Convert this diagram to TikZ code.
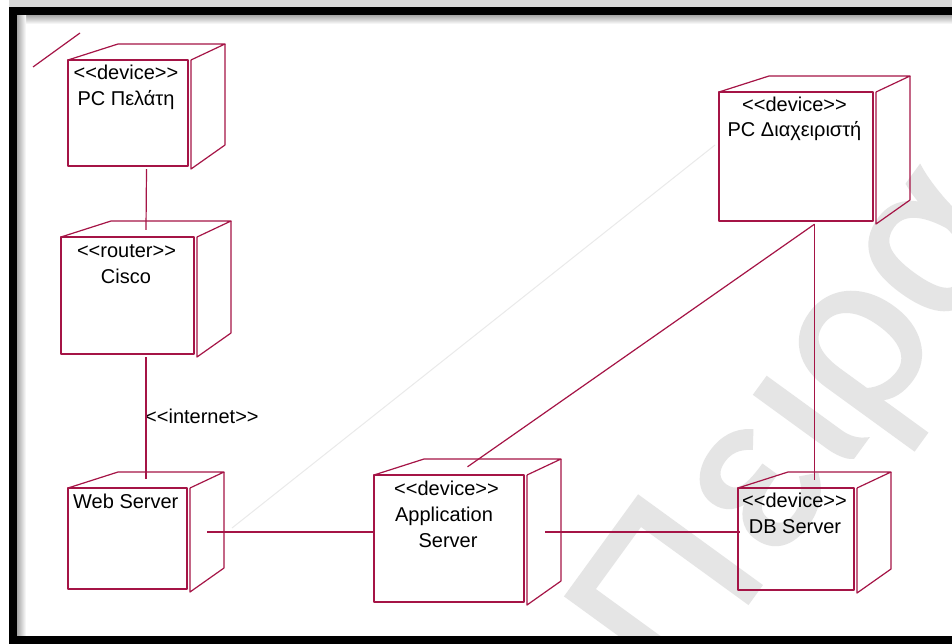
\documentclass[tikz,border=0pt]{standalone}
\usepackage{fontspec}
\setmainfont{Liberation Sans}[Ligatures=TeXOff]
\newfontfamily\wmfont{Liberation Sans}[FakeBold=2]
\usetikzlibrary{fit,calc}
\definecolor{umlred}{RGB}{165,20,70}
\definecolor{wm}{RGB}{229,229,229}
\tikzset{
  umlline/.style={draw=umlred, line width=1.2pt, line join=round},
  bbox/.style={inner sep=0pt, draw=none},
  lbl/.style={font=\fontsize{20}{24}\selectfont, inner sep=0pt, text=black},
  conn/.style={draw=umlred, line width=1.2pt},
  wmglyph/.style={rotate=54, inner sep=0pt, text=wm, anchor=center,
    font=\wmfont\fontsize{218}{218}\selectfont, text depth=0pt, text height=#1},
  wmglyph/.default=113pt,
}
\newcommand\devbox[5]{%
  \draw[umlline] (#2,#3) rectangle (#4,#5);
  \draw[umlline] (#2,#3) -- (#2+50,#3-16) -- (#4+37,#3-16) -- (#4+3,#3);
  \draw[umlline] (#4+3,#3) -- (#4+3,#5+3) -- (#4+37,#5-21) -- (#4+37,#3-16);
  \node[bbox, fit={(#2,#3-16) (#4+37,#5+3)}] (#1) {};
}
\begin{document}
\begin{tikzpicture}[x=1pt,y=-1pt]
\useasboundingbox (0,0) rectangle (952,644);
\fill[white] (0,0) rectangle (952,644);
% watermark
\begin{scope}
  \clip (17,15) rectangle (952,636);
  \node[wmglyph=156pt] (wm1) at (661,589) {Π};
  \node[wmglyph] (wm2) at (760,489) {ε};
  \node[wmglyph] (wm3) at (809,421) {ι};
  \node[wmglyph] (wm4) at (860,350) {ρ};
  \node[wmglyph] (wm5) at (934,248) {α};
  \coordinate (f1) at (232,528);
  \coordinate (f2) at (715,145);
  \draw[wm!80, line width=1pt] (f1) -- (f2);
\end{scope}
% frame
\fill[black!15] (9,0) rectangle (952,7);
\shade[top color=black!35, bottom color=white] (17,15) rectangle (952,24);
\shade[left color=black!35, right color=white] (17,15) rectangle (26,636);
\fill[black] (9,7) rectangle (952,15);
\fill[black] (9,7) rectangle (17,644);
\fill[black] (9,636) rectangle (952,644);
% nodes
\devbox{pcc}{68}{60}{188}{166}
\devbox{cisco}{61}{237}{194}{354}
\devbox{web}{68}{488}{187}{589}
\devbox{app}{374}{475}{524}{602}
\devbox{db}{738}{488}{854}{590}
\devbox{pcd}{719}{92}{873}{221}
% labels
\node[lbl, anchor=base] (pcc-s) at (126,80) {<<device>>};
\node[lbl, anchor=base] (pcc-n) at (126,106) {PC Πελάτη};
\node[lbl, anchor=base] (cisco-s) at (126.5,257) {<<router>>};
\node[lbl, anchor=base] (cisco-n) at (126,283) {Cisco};
\node[lbl, anchor=base west] (web-n) at (73,508) {Web Server};
\node[lbl, anchor=base] (app-s) at (446.5,495) {<<device>>};
\node[lbl, anchor=base] (app-n1) at (444,521) {Application};
\node[lbl, anchor=base] (app-n2) at (448,547) {Server};
\node[lbl, anchor=base] (db-s) at (794.5,507) {<<device>>};
\node[lbl, anchor=base] (db-n) at (795,533) {DB Server};
\node[lbl, anchor=base] (pcd-s) at (794.5,112) {<<device>>};
\node[lbl, anchor=base] (pcd-n) at (794.5,137) {PC Διαχειριστή};
\node[lbl, anchor=base west] (inet) at (145,423) {<<internet>>};
% connectors
\draw[conn] (pcc.south) -- ($(cisco.north)+(0,9)$);
\draw[conn] (cisco.south) -- ($(web.north)+(0,7)$);
\draw[conn] (app.west) -- ($(app.west -| web.east)+(-17,0)$);
\draw[conn] ($(app.east)+(-16,0)$) -- ($(app.east -| db.west)+(2,0)$);
\draw[conn] (pcd.south) -- ($(db.north)+(0,8)$);
\draw[conn] (pcd.south) -- ($(app.north)+(0,8)$);
\coordinate (s1) at (33,67);
\coordinate (s2) at (80,33);
\draw[conn] (s1) -- (s2);
\end{tikzpicture}
\end{document}
